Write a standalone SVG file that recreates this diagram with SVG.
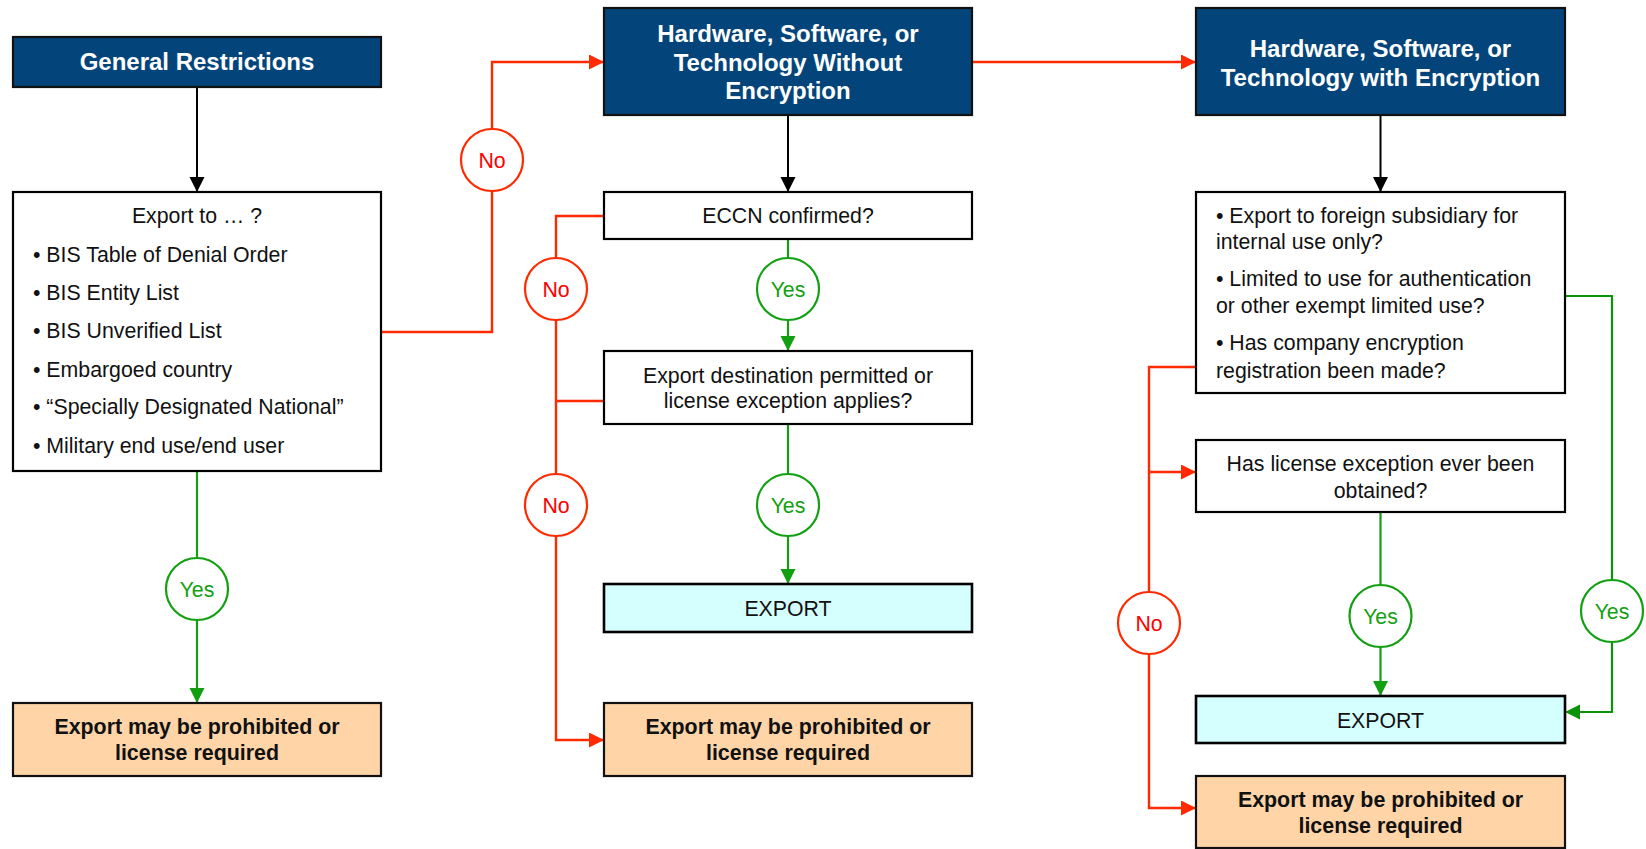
<svg xmlns="http://www.w3.org/2000/svg" width="1646" height="849" viewBox="0 0 1646 849">
<style>
.box{fill:#ffffff;stroke:#000000;stroke-width:2.2}
.title{fill:#03457a;stroke:#111111;stroke-width:2.2}
.prohib{fill:#ffd5a8;stroke:#111111;stroke-width:2.2}
.export{fill:#d5ffff;stroke:#000000;stroke-width:2.6}
.t{font-family:"Liberation Sans",Arial,sans-serif;font-size:21.3px;fill:#111111}
.tc{text-anchor:middle}
.tt{font-family:"Liberation Sans",Arial,sans-serif;font-size:24px;font-weight:bold;fill:#ffffff;text-anchor:middle}
.tb{font-family:"Liberation Sans",Arial,sans-serif;font-size:21.4px;font-weight:bold;fill:#111111;text-anchor:middle}
.blk{fill:none;stroke:#000000;stroke-width:2}
.red{fill:none;stroke:#ff2a00;stroke-width:2.4}
.grn{fill:none;stroke:#12a012;stroke-width:2.2}
.grn2{fill:none;stroke:#0a940a;stroke-width:2.2}
.cr{fill:#ffffff;stroke:#ff2a00;stroke-width:2.2}
.cg{fill:#ffffff;stroke:#12a012;stroke-width:2.2}
.lr{font-family:"Liberation Sans",Arial,sans-serif;font-size:21.3px;fill:#ff0000;text-anchor:middle}
.lg{font-family:"Liberation Sans",Arial,sans-serif;font-size:21.3px;fill:#12a012;text-anchor:middle}
</style>
<defs>
<marker id="ab" markerUnits="userSpaceOnUse" markerWidth="16" markerHeight="16" refX="15" refY="7.5" orient="auto"><path d="M0,0 L15,7.5 L0,15 z" fill="#000000"/></marker>
<marker id="ar" markerUnits="userSpaceOnUse" markerWidth="16" markerHeight="16" refX="15" refY="7.5" orient="auto"><path d="M0,0 L15,7.5 L0,15 z" fill="#ff2a00"/></marker>
<marker id="ag" markerUnits="userSpaceOnUse" markerWidth="16" markerHeight="16" refX="15" refY="7.5" orient="auto"><path d="M0,0 L15,7.5 L0,15 z" fill="#12a012"/></marker>
<marker id="ag2" markerUnits="userSpaceOnUse" markerWidth="16" markerHeight="16" refX="15" refY="7.5" orient="auto"><path d="M0,0 L15,7.5 L0,15 z" fill="#0a940a"/></marker>
</defs>
<rect width="1646" height="849" fill="#ffffff"/>

<g id="connectors">
<path class="blk" d="M197,87 V192" marker-end="url(#ab)"/>
<path class="blk" d="M788,115 V192" marker-end="url(#ab)"/>
<path class="blk" d="M1380.5,115 V192" marker-end="url(#ab)"/>
<path class="red" d="M381,332 H492 V62 H604" marker-end="url(#ar)"/>
<path class="red" d="M972,62 H1196" marker-end="url(#ar)"/>
<path class="red" d="M604,216 H556 V740 H604" marker-end="url(#ar)"/>
<path class="red" d="M604,401 H556"/>
<path class="grn" d="M788,239 V351" marker-end="url(#ag)"/>
<path class="grn" d="M788,424 V584" marker-end="url(#ag)"/>
<path class="grn" d="M197,471 V703" marker-end="url(#ag)"/>
<path class="red" d="M1196,367 H1149 V808 H1196" marker-end="url(#ar)"/>
<path class="red" d="M1149,472 H1196" marker-end="url(#ar)"/>
<path class="grn" d="M1380.5,512 V696" marker-end="url(#ag)"/>
<path class="grn2" d="M1565,296 H1612 V712 H1565" marker-end="url(#ag2)"/>
<g id="label-no-1"><circle class="cr" cx="492" cy="160" r="31"/><text class="lr" x="492" y="167.5">No</text></g>
<g id="label-no-2"><circle class="cr" cx="556" cy="289" r="31"/><text class="lr" x="556" y="296.5">No</text></g>
<g id="label-no-3"><circle class="cr" cx="556" cy="505" r="31"/><text class="lr" x="556" y="512.5">No</text></g>
<g id="label-no-4"><circle class="cr" cx="1149" cy="623" r="31"/><text class="lr" x="1149" y="630.5">No</text></g>
<g id="label-yes-1"><circle class="cg" cx="197" cy="589" r="31"/><text class="lg" x="197" y="596.5">Yes</text></g>
<g id="label-yes-2"><circle class="cg" cx="788" cy="289" r="31"/><text class="lg" x="788" y="296.5">Yes</text></g>
<g id="label-yes-3"><circle class="cg" cx="788" cy="505" r="31"/><text class="lg" x="788" y="512.5">Yes</text></g>
<g id="label-yes-4"><circle class="cg" cx="1380.5" cy="616" r="31"/><text class="lg" x="1380.5" y="623.5">Yes</text></g>
<g id="label-yes-5"><circle class="cg" cx="1612" cy="611" r="31"/><text class="lg" x="1612" y="618.5">Yes</text></g>
</g>

<g id="general-restrictions">
<rect class="title" x="13" y="37" width="368" height="50"/>
<text class="tt" x="197" y="70">General Restrictions</text>
</g>

<g id="export-to">
<rect class="box" x="13" y="192" width="368" height="279"/>
<text class="t tc" x="197" y="222.5">Export to … ?</text>
<text class="t" x="33" y="261.5">• BIS Table of Denial Order</text>
<text class="t" x="33" y="300">• BIS Entity List</text>
<text class="t" x="33" y="337.5">• BIS Unverified List</text>
<text class="t" x="33" y="376.5">• Embargoed country</text>
<text class="t" x="33" y="414">• “Specially Designated National”</text>
<text class="t" x="33" y="453">• Military end use/end user</text>
</g>

<g id="prohibited-1">
<rect class="prohib" x="13" y="703" width="368" height="73"/>
<text class="tb" x="197" y="733.5">Export may be prohibited or</text>
<text class="tb" x="197" y="760">license required</text>
</g>

<g id="hw-without-encryption">
<rect class="title" x="604" y="8" width="368" height="107"/>
<text class="tt" x="788" y="41.5">Hardware, Software, or</text>
<text class="tt" x="788" y="70.5">Technology Without</text>
<text class="tt" x="788" y="99">Encryption</text>
</g>

<g id="eccn">
<rect class="box" x="604" y="192" width="368" height="47"/>
<text class="t tc" x="788" y="222.5">ECCN confirmed?</text>
</g>

<g id="export-destination">
<rect class="box" x="604" y="351" width="368" height="73"/>
<text class="t tc" x="788" y="382.5">Export destination permitted or</text>
<text class="t tc" x="788" y="408">license exception applies?</text>
</g>

<g id="export-1">
<rect class="export" x="604" y="584" width="368" height="48"/>
<text class="t tc" x="788" y="616">EXPORT</text>
</g>

<g id="prohibited-2">
<rect class="prohib" x="604" y="703" width="368" height="73"/>
<text class="tb" x="788" y="733.5">Export may be prohibited or</text>
<text class="tb" x="788" y="760">license required</text>
</g>

<g id="hw-with-encryption">
<rect class="title" x="1196" y="8" width="369" height="107"/>
<text class="tt" x="1380.5" y="56.5">Hardware, Software, or</text>
<text class="tt" x="1380.5" y="85.5">Technology with Encryption</text>
</g>

<g id="encryption-questions">
<rect class="box" x="1196" y="192" width="369" height="201"/>
<text class="t" x="1216" y="222.5">• Export to foreign subsidiary for</text>
<text class="t" x="1216" y="249">internal use only?</text>
<text class="t" x="1216" y="285.5">• Limited to use for authentication</text>
<text class="t" x="1216" y="313">or other exempt limited use?</text>
<text class="t" x="1216" y="350">• Has company encryption</text>
<text class="t" x="1216" y="377.5">registration been made?</text>
</g>

<g id="license-exception">
<rect class="box" x="1196" y="440" width="369" height="72"/>
<text class="t tc" x="1380.5" y="470.5">Has license exception ever been</text>
<text class="t tc" x="1380.5" y="497.5">obtained?</text>
</g>

<g id="export-2">
<rect class="export" x="1196" y="696" width="369" height="47"/>
<text class="t tc" x="1380.5" y="728">EXPORT</text>
</g>

<g id="prohibited-3">
<rect class="prohib" x="1196" y="776" width="369" height="72"/>
<text class="tb" x="1380.5" y="806.5">Export may be prohibited or</text>
<text class="tb" x="1380.5" y="833">license required</text>
</g>
</svg>
